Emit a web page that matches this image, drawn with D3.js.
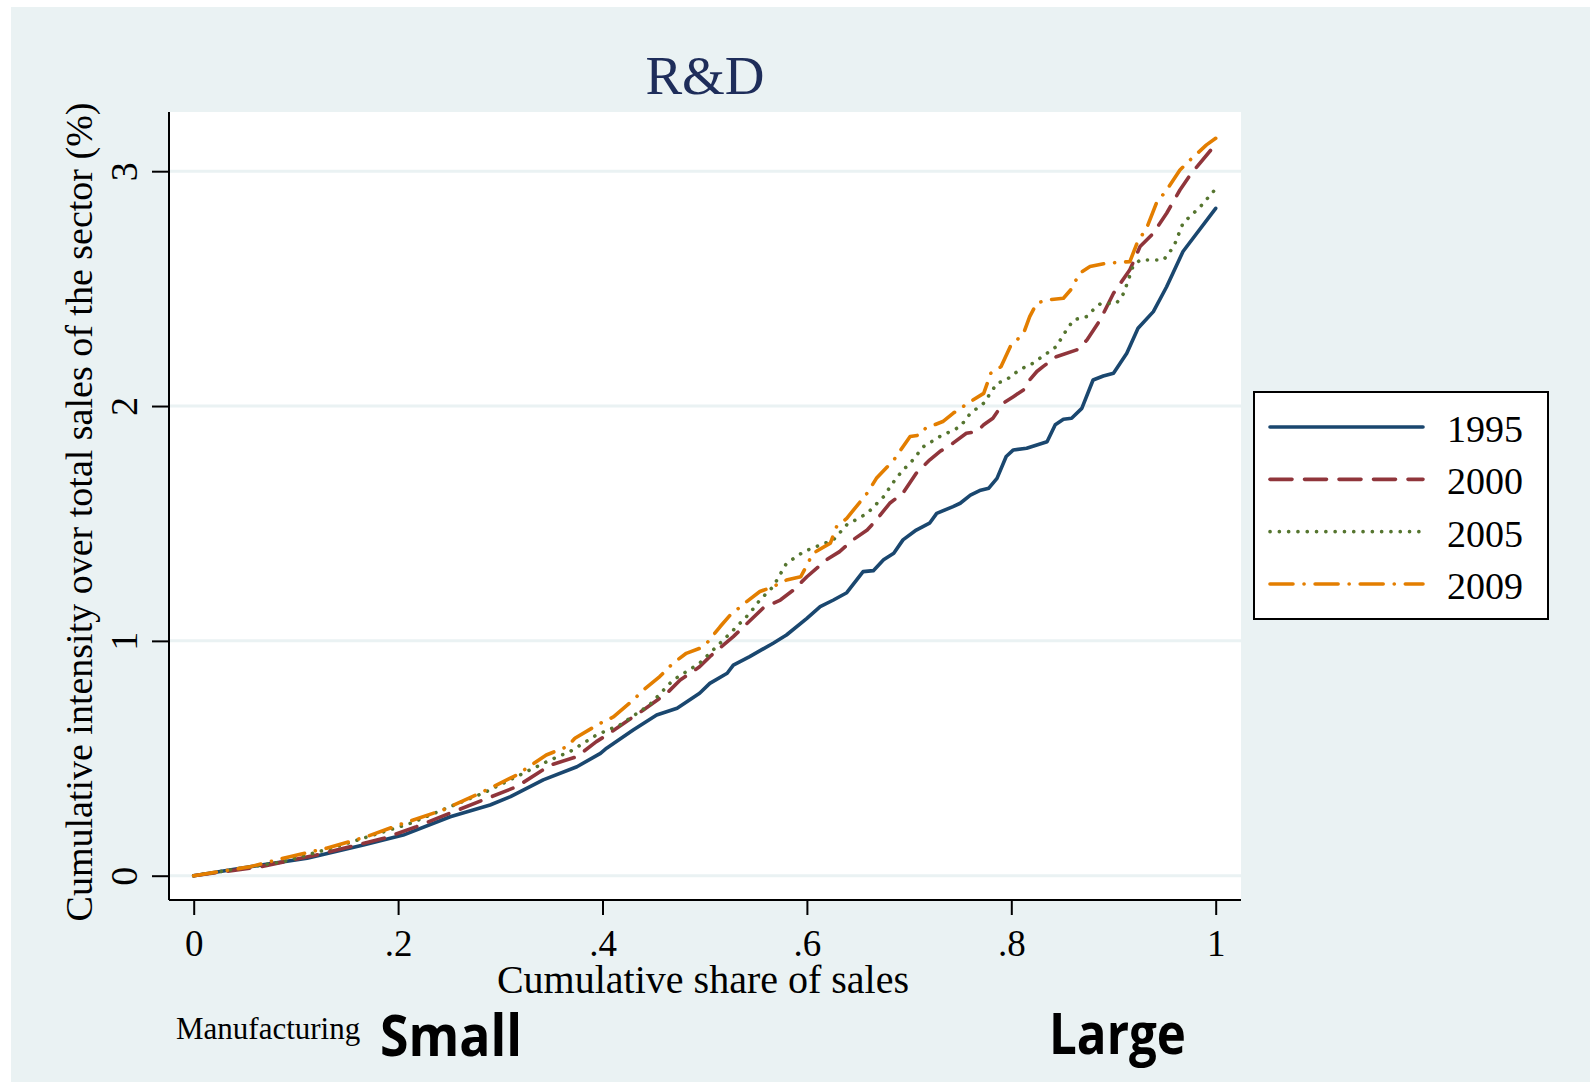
<!DOCTYPE html>
<html>
<head>
<meta charset="utf-8">
<script src="https://cdn.jsdelivr.net/npm/d3@7"></script>
<style>
  body { margin: 0; background: #ffffff; }
  svg { display: block; }
</style>
</head>
<body>
<svg id="chart" width="1590" height="1082"></svg>
<script>
// Cumulative R&D intensity against cumulative share of sales (manufacturing)
const years = ["1995", "2000", "2005", "2009"];

const share1995 = [0, 0.055, 0.111, 0.166, 0.205, 0.251, 0.290, 0.310, 0.342, 0.375, 0.398, 0.404, 0.430, 0.453, 0.473, 0.495, 0.505, 0.522, 0.528, 0.544, 0.567, 0.580, 0.600, 0.613, 0.626, 0.639, 0.655, 0.665, 0.675, 0.685, 0.694, 0.707, 0.720, 0.727, 0.743, 0.750, 0.760, 0.769, 0.778, 0.786, 0.795, 0.802, 0.815, 0.825, 0.835, 0.843, 0.851, 0.859, 0.869, 0.880, 0.890, 0.900, 0.913, 0.924, 0.939, 0.952, 0.968, 1.0];
const value1995 = [0, 0.038, 0.074, 0.131, 0.173, 0.251, 0.301, 0.337, 0.408, 0.464, 0.521, 0.543, 0.620, 0.684, 0.713, 0.777, 0.819, 0.862, 0.897, 0.933, 0.990, 1.025, 1.096, 1.146, 1.174, 1.205, 1.295, 1.299, 1.345, 1.373, 1.430, 1.472, 1.501, 1.543, 1.572, 1.586, 1.621, 1.640, 1.650, 1.692, 1.785, 1.813, 1.820, 1.834, 1.848, 1.920, 1.944, 1.948, 1.990, 2.111, 2.128, 2.140, 2.225, 2.331, 2.402, 2.508, 2.658, 2.842];

const share2000 = [0, 0.065, 0.120, 0.186, 0.218, 0.238, 0.283, 0.316, 0.349, 0.375, 0.394, 0.401, 0.440, 0.463, 0.476, 0.495, 0.505, 0.528, 0.538, 0.557, 0.574, 0.587, 0.600, 0.619, 0.632, 0.645, 0.659, 0.668, 0.681, 0.694, 0.707, 0.720, 0.730, 0.743, 0.756, 0.766, 0.773, 0.782, 0.792, 0.802, 0.812, 0.818, 0.825, 0.831, 0.844, 0.864, 0.874, 0.887, 0.900, 0.916, 0.926, 0.939, 0.952, 0.965, 0.975, 1.0];
const value2000 = [0, 0.038, 0.088, 0.159, 0.209, 0.244, 0.322, 0.379, 0.471, 0.507, 0.571, 0.590, 0.706, 0.777, 0.833, 0.890, 0.933, 1.018, 1.060, 1.139, 1.174, 1.217, 1.273, 1.345, 1.380, 1.430, 1.472, 1.515, 1.586, 1.629, 1.714, 1.770, 1.806, 1.842, 1.884, 1.891, 1.920, 1.948, 2.012, 2.040, 2.069, 2.111, 2.147, 2.168, 2.210, 2.239, 2.281, 2.367, 2.480, 2.580, 2.679, 2.736, 2.821, 2.920, 2.984, 3.115];

const share2005 = [0, 0.088, 0.140, 0.212, 0.251, 0.283, 0.316, 0.349, 0.368, 0.394, 0.417, 0.446, 0.469, 0.495, 0.515, 0.528, 0.544, 0.554, 0.567, 0.580, 0.597, 0.613, 0.626, 0.639, 0.659, 0.675, 0.685, 0.694, 0.701, 0.714, 0.730, 0.750, 0.760, 0.773, 0.786, 0.795, 0.808, 0.821, 0.835, 0.844, 0.854, 0.861, 0.874, 0.880, 0.887, 0.903, 0.910, 0.919, 0.926, 0.949, 0.959, 0.968, 0.985, 1.0];
const value2005 = [0, 0.060, 0.124, 0.223, 0.294, 0.351, 0.422, 0.493, 0.528, 0.599, 0.642, 0.727, 0.833, 0.905, 0.990, 1.046, 1.117, 1.174, 1.231, 1.330, 1.380, 1.408, 1.430, 1.494, 1.543, 1.614, 1.678, 1.728, 1.756, 1.827, 1.870, 1.912, 1.969, 2.012, 2.097, 2.111, 2.154, 2.182, 2.225, 2.253, 2.324, 2.367, 2.381, 2.409, 2.435, 2.438, 2.480, 2.594, 2.622, 2.622, 2.679, 2.779, 2.849, 2.925];

const share2009 = [0, 0.055, 0.094, 0.130, 0.169, 0.205, 0.244, 0.280, 0.316, 0.345, 0.365, 0.373, 0.396, 0.411, 0.430, 0.440, 0.456, 0.469, 0.482, 0.495, 0.502, 0.515, 0.525, 0.541, 0.554, 0.567, 0.580, 0.594, 0.606, 0.623, 0.629, 0.639, 0.659, 0.668, 0.685, 0.694, 0.701, 0.711, 0.716, 0.733, 0.743, 0.760, 0.773, 0.780, 0.790, 0.799, 0.812, 0.818, 0.825, 0.835, 0.851, 0.858, 0.867, 0.877, 0.893, 0.916, 0.923, 0.933, 0.942, 0.952, 0.965, 0.975, 0.991, 1.0];
const value2009 = [0, 0.038, 0.081, 0.117, 0.166, 0.223, 0.280, 0.351, 0.429, 0.514, 0.549, 0.585, 0.645, 0.677, 0.748, 0.791, 0.848, 0.905, 0.947, 0.968, 0.990, 1.060, 1.110, 1.167, 1.210, 1.231, 1.259, 1.273, 1.373, 1.416, 1.486, 1.522, 1.629, 1.692, 1.770, 1.827, 1.870, 1.877, 1.905, 1.934, 1.969, 2.019, 2.054, 2.140, 2.168, 2.253, 2.310, 2.381, 2.438, 2.452, 2.459, 2.494, 2.566, 2.594, 2.608, 2.615, 2.693, 2.764, 2.864, 2.920, 3.005, 3.048, 3.112, 3.140];

const xTicks = [0, 0.2, 0.4, 0.6, 0.8, 1];
const xTickLabels = ["0", ".2", ".4", ".6", ".8", "1"];
const yTicks = [0, 1, 2, 3];
const yTickLabels = ["0", "1", "2", "3"];

const seriesColors = ["#1a476f", "#90353b", "#55752f", "#e37e00"];
const seriesDash = [null, "22 12.5", "0.1 9.2", "23 11 0.1 11"];

const shares = [share1995, share2000, share2005, share2009];
const values = [value1995, value2000, value2005, value2009];

const W = 1590, H = 1082;
const plot = { left: 169, right: 1241, top: 112, bottom: 900 };
const serif = "'Liberation Serif', 'Times New Roman', serif";

const svg = d3.select("#chart");

// page background
svg.append("rect").attr("x", 0).attr("y", 0).attr("width", W).attr("height", H).attr("fill", "#ffffff");
svg.append("rect").attr("x", 11).attr("y", 7).attr("width", W - 11).attr("height", H - 7).attr("fill", "#eaf2f3");

// plot region
svg.append("rect")
  .attr("x", plot.left).attr("y", plot.top)
  .attr("width", plot.right - plot.left).attr("height", plot.bottom - plot.top)
  .attr("fill", "#ffffff");

const x = d3.scaleLinear().domain([0, 1]).range([193.7, 1215.7]);
const y = d3.scaleLinear().domain([0, 3]).range([875.7, 171.2]);

// horizontal grid lines
svg.append("g").selectAll("line").data(yTicks).join("line")
  .attr("x1", plot.left).attr("x2", plot.right)
  .attr("y1", d => y(d)).attr("y2", d => y(d))
  .attr("stroke", "#eaf2f3").attr("stroke-width", 3);

// series lines
const line = d3.line().x(d => x(d[0])).y(d => y(d[1])).curve(d3.curveLinear);
years.forEach((yr, i) => {
  const pts = shares[i].map((s, k) => [s, values[i][k]]);
  svg.append("path")
    .datum(pts)
    .attr("d", line)
    .attr("fill", "none")
    .attr("stroke", seriesColors[i])
    .attr("stroke-width", 3.6)
    .attr("stroke-linecap", "round")
    .attr("stroke-linejoin", "round")
    .attr("stroke-dasharray", seriesDash[i]);
});

// x axis
const xAxis = d3.axisBottom(x).tickValues(xTicks).tickFormat((d, i) => xTickLabels[i]).tickSize(15).tickSizeOuter(0);
const gx = svg.append("g").attr("transform", `translate(0,${plot.bottom})`).call(xAxis);
gx.select(".domain").attr("d", `M${plot.left},0H${plot.right}`).attr("stroke", "#000").attr("stroke-width", 2);
gx.selectAll(".tick line").attr("stroke", "#000").attr("stroke-width", 2);
gx.selectAll(".tick text")
  .attr("y", 56).attr("dy", null)
  .attr("font-family", serif).attr("font-size", 37).attr("fill", "#000");

// y axis
const yAxis = d3.axisLeft(y).tickValues(yTicks).tickFormat((d, i) => yTickLabels[i]).tickSize(17).tickSizeOuter(0);
const gy = svg.append("g").attr("transform", `translate(${plot.left},0)`).call(yAxis);
gy.select(".domain").attr("d", `M0,${plot.top}V${plot.bottom}`).attr("stroke", "#000").attr("stroke-width", 2);
gy.selectAll(".tick line").attr("stroke", "#000").attr("stroke-width", 2);
gy.selectAll(".tick text")
  .attr("x", null).attr("dy", null)
  .attr("transform", "translate(-32,0) rotate(-90)")
  .attr("text-anchor", "middle")
  .attr("font-family", serif).attr("font-size", 38).attr("fill", "#000");

// title
svg.append("text")
  .attr("x", (plot.left + plot.right) / 2).attr("y", 94)
  .attr("text-anchor", "middle")
  .attr("font-family", serif).attr("font-size", 55).attr("fill", "#1e2d5a")
  .text("R&D");

// axis titles
svg.append("text")
  .attr("x", 703).attr("y", 993)
  .attr("text-anchor", "middle")
  .attr("font-family", serif).attr("font-size", 40).attr("fill", "#000")
  .text("Cumulative share of sales");

svg.append("text")
  .attr("transform", "translate(92,512) rotate(-90)")
  .attr("text-anchor", "middle")
  .attr("font-family", serif).attr("font-size", 38).attr("fill", "#000")
  .text("Cumulative intensity over total sales of the sector (%)");

// legend
const lg = svg.append("g");
lg.append("rect")
  .attr("x", 1254).attr("y", 392).attr("width", 294).attr("height", 227)
  .attr("fill", "#ffffff").attr("stroke", "#000").attr("stroke-width", 2);
const legendY = d3.scalePoint().domain(years).range([427, 584]);
years.forEach((yr, i) => {
  lg.append("line")
    .attr("x1", 1270).attr("x2", 1423)
    .attr("y1", legendY(yr)).attr("y2", legendY(yr))
    .attr("stroke", seriesColors[i]).attr("stroke-width", 3.6)
    .attr("stroke-linecap", "round")
    .attr("stroke-dasharray", seriesDash[i]);
  lg.append("text")
    .attr("x", 1447).attr("y", legendY(yr) + 15)
    .attr("font-family", serif).attr("font-size", 38).attr("fill", "#000")
    .text(yr);
});

// bottom annotations
svg.append("text")
  .attr("x", 176).attr("y", 1039)
  .attr("font-family", serif).attr("font-size", 31).attr("fill", "#000")
  .text("Manufacturing");

svg.append("text")
  .attr("x", 380).attr("y", 1056)
  .attr("font-family", "'Open Sans', sans-serif").attr("font-weight", 700)
  .attr("font-size", 58).attr("fill", "#000")
  .attr("textLength", 142).attr("lengthAdjust", "spacingAndGlyphs")
  .text("Small");

svg.append("text")
  .attr("x", 1049).attr("y", 1054)
  .attr("font-family", "'Open Sans', sans-serif").attr("font-weight", 700)
  .attr("font-size", 58).attr("fill", "#000")
  .attr("textLength", 137).attr("lengthAdjust", "spacingAndGlyphs")
  .text("Large");
</script>
</body>
</html>
